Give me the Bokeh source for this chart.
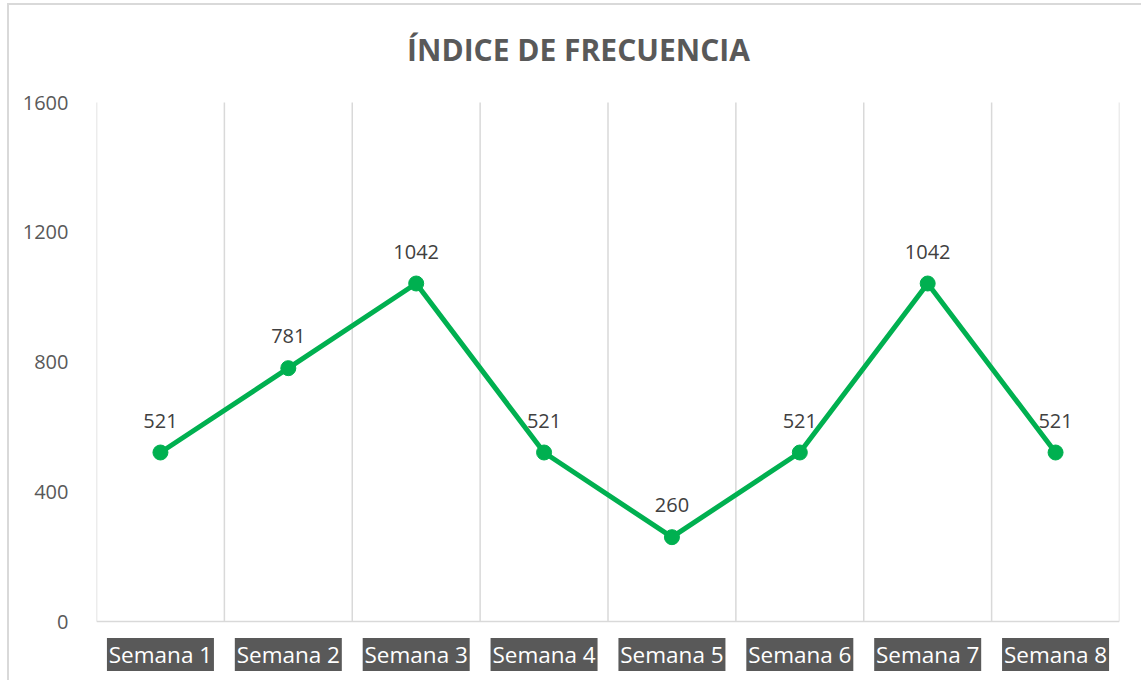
from bokeh.plotting import figure
from bokeh.models import Range1d, FixedTicker, ColumnDataSource, LabelSet
from bokeh.core.properties import value
from bokeh.embed import file_html
from bokeh.resources import INLINE

categories = ["Semana 1", "Semana 2", "Semana 3", "Semana 4",
              "Semana 5", "Semana 6", "Semana 7", "Semana 8"]
values = [521, 781, 1042, 521, 260, 521, 1042, 521]
y_ticks = [0, 400, 800, 1200, 1600]
title_text = "ÍNDICE DE FRECUENCIA"

FONT = "Open Sans"
GRID = "#D9D9D9"
n = len(categories)
x_pos = [i + 0.5 for i in range(n)]
bounds = list(range(n + 1))

# layout (pixels)
OX, OY = 9, 5                          # figure origin on page (after margin + border)
W, H = 1134, 677
LEFT, RIGHT = 96 - OX, (OX + W) - 1119
PLOT_TOP, PLOT_BOTTOM = 102 - OY, 621 - OY
y_max = max(y_ticks)
ppu = (PLOT_BOTTOM - PLOT_TOP) / y_max
y_start = -(H - PLOT_BOTTOM) / ppu
y_end = y_max + PLOT_TOP / ppu
xppu = (W - LEFT - RIGHT) / n

p = figure(width=W, height=H, output_backend="svg", toolbar_location=None,
           x_range=Range1d(0, n), y_range=Range1d(y_start, y_end),
           min_border_left=LEFT, min_border_top=0, min_border_right=RIGHT,
           min_border_bottom=0)
p.outline_line_color = None
p.background_fill_color = "white"
p.border_fill_color = "white"
p.styles = {"border-top": "2px solid #D9D9D9", "border-left": "2px solid #D9D9D9",
            "margin-left": "7px", "margin-top": "3px"}

p.xgrid.grid_line_color = None
p.ygrid.grid_line_color = None
p.xaxis.visible = False

# y axis
p.yaxis.ticker = FixedTicker(ticks=y_ticks)
p.yaxis.axis_line_color = None
p.yaxis.major_tick_line_color = None
p.yaxis.minor_tick_line_color = None
p.yaxis.major_label_standoff = 22
p.yaxis.major_label_text_font = FONT
p.yaxis.major_label_text_font_size = "20px"
p.yaxis.major_label_text_color = "#595959"

# vertical category gridlines + baseline
p.segment(x0=bounds, y0=[0] * len(bounds), x1=bounds, y1=[y_max] * len(bounds),
          line_color=GRID, line_width=1.5)
p.segment(x0=[0], y0=[0], x1=[n], y1=[0], line_color=GRID, line_width=1.5)

src = ColumnDataSource(dict(x=x_pos, y=values, t=[str(v) for v in values]))
p.line("x", "y", source=src, line_color="#00B050", line_width=5)
p.scatter("x", "y", source=src, size=15, fill_color="#00B050", line_color="#00B050")

p.add_layout(LabelSet(x="x", y="y", text="t", source=src, y_offset=32,
                      text_align="center", text_baseline="middle",
                      text_font=value(FONT), text_font_size=value("20px"),
                      text_color="#404040"))

# category labels with dark boxes
cat_y = -33 / ppu
csrc = ColumnDataSource(dict(x=x_pos, y=[cat_y] * n, t=categories))
p.rect("x", "y", source=csrc, width=107, height=33, width_units="screen",
       height_units="screen", fill_color="#595959", line_color=None)
p.text("x", "y", text="t", source=csrc, text_align="center", text_baseline="middle",
       text_font=value(FONT), text_font_size="22.5px", text_color="white")

# title
p.text(x=[(578 - OX - LEFT) / xppu], y=[y_max + 53 / ppu], text=[title_text],
       text_align="center", text_baseline="alphabetic",
       text_font=value(FONT), text_font_style="bold", text_font_size="30px",
       text_color="#595959")

open("out.html", "w").write(file_html(p, INLINE))
